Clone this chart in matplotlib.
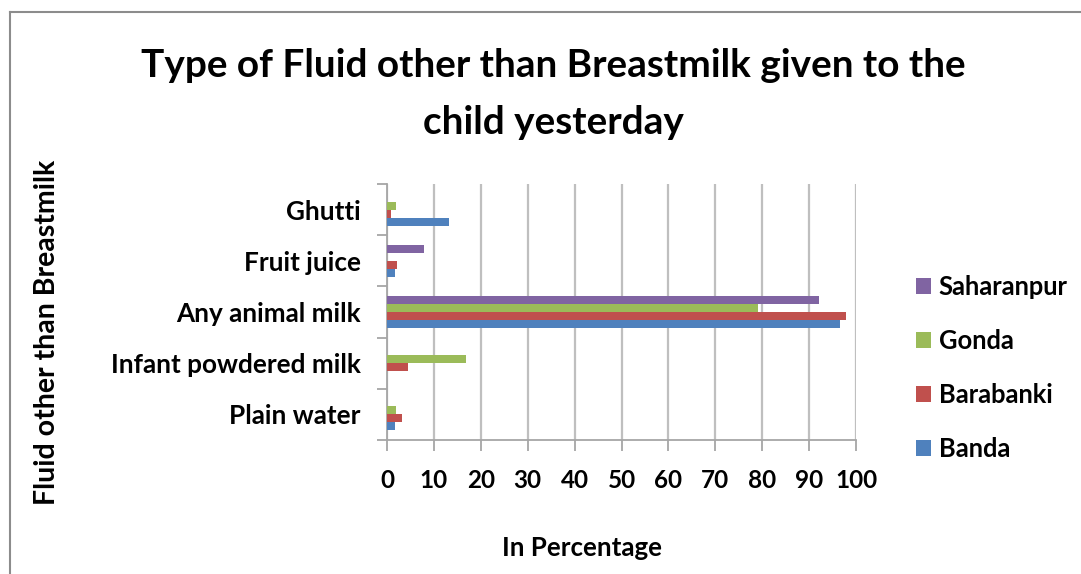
import matplotlib
matplotlib.use("Agg")
import matplotlib.pyplot as plt
from matplotlib.lines import Line2D
from matplotlib.patches import Patch
import numpy as np

categories = ["Plain water", "Infant powdered milk", "Any animal milk", "Fruit juice", "Ghutti"]
series_names = ["Banda", "Barabanki", "Gonda", "Saharanpur"]
banda = [1.7, 0.0, 96.6, 1.6, 13.3]
barabanki = [3.3, 4.5, 97.8, 2.1, 0.9]
gonda = [1.9, 16.8, 79.2, 0.0, 1.9]
saharanpur = [0.0, 0.0, 92.1, 7.8, 0.0]
x_ticks = [0, 10, 20, 30, 40, 50, 60, 70, 80, 90, 100]
colors = ["#4F81BD", "#C0504D", "#9BBB59", "#8064A2"]

FONT = "Lato"
W, H = 1081, 574
fig = plt.figure(figsize=(W / 100, H / 100), dpi=100)

def fx(px):
    return px / W

def fy(py):
    return 1 - py / H

ax = fig.add_axes([fx(387), fy(440), fx(856) - fx(387), fy(184) - fy(440)])

values = [banda, barabanki, gonda, saharanpur]
ypos = np.arange(len(categories))
bar_h = 0.157
for i, (vals, c) in enumerate(zip(values, colors)):
    offs = (i - 1.5) * bar_h
    ax.barh(ypos + offs, vals, height=bar_h, color=c, zorder=3)

ax.set_xlim(0, 100)
ax.set_ylim(-0.5, len(categories) - 0.5)
ax.set_xticks(x_ticks)
ax.set_xticklabels([str(t) for t in x_ticks], fontsize=17.5, family=FONT,
                   fontweight="bold")
ax.set_yticks(np.arange(-0.5, len(categories), 1.0))
ax.set_yticklabels([])
ax.set_yticks(ypos, minor=True)
ax.set_yticklabels(categories, minor=True, fontsize=18.8, family=FONT,
                   fontweight="bold")
ax.tick_params(axis="y", which="minor", length=0, pad=19)
ax.tick_params(axis="y", which="major", length=7, color="#A6A6A6", width=1.3)
ax.tick_params(axis="x", length=8, color="#A6A6A6", width=1.3, pad=13)
ax.grid(axis="x", color="#BFBFBF", linewidth=1.6, zorder=0)
for s in ["top", "right"]:
    ax.spines[s].set_visible(False)
for s in ["left", "bottom"]:
    ax.spines[s].set_color("#A6A6A6")
    ax.spines[s].set_linewidth(1.3)

fig.text(fx(553), fy(66), "Type of Fluid other than Breastmilk given to the",
         ha="center", va="center", fontsize=27.9, fontweight="bold", family=FONT)
fig.text(fx(553), fy(123), "child yesterday",
         ha="center", va="center", fontsize=27.9, fontweight="bold", family=FONT)
fig.text(fx(47), fy(332), "Fluid other than Breastmilk", rotation=90,
         ha="center", va="center", fontsize=20.5, fontweight="bold", family=FONT)
fig.text(fx(582), fy(548), "In Percentage",
         ha="center", va="center", fontsize=18.6, fontweight="bold", family=FONT)

handles = [Patch(facecolor=c) for c in colors[::-1]]
leg = fig.legend(handles, series_names[::-1], loc="center left",
                 bbox_to_anchor=(fx(903), fy(368)), frameon=False,
                 prop={"family": FONT, "size": 18.4, "weight": "bold"},
                 handlelength=0.6, handleheight=0.6, handletextpad=0.3,
                 labelspacing=1.17, borderpad=0)

# chart frame (top and left edges)
fig.add_artist(Line2D([fx(10), 1], [fy(12), fy(12)], color="#8C8C8C", lw=1.5))
fig.add_artist(Line2D([fx(10), fx(10)], [fy(12), 0], color="#8C8C8C", lw=1.5))

fig.savefig("out.png", dpi=100)
